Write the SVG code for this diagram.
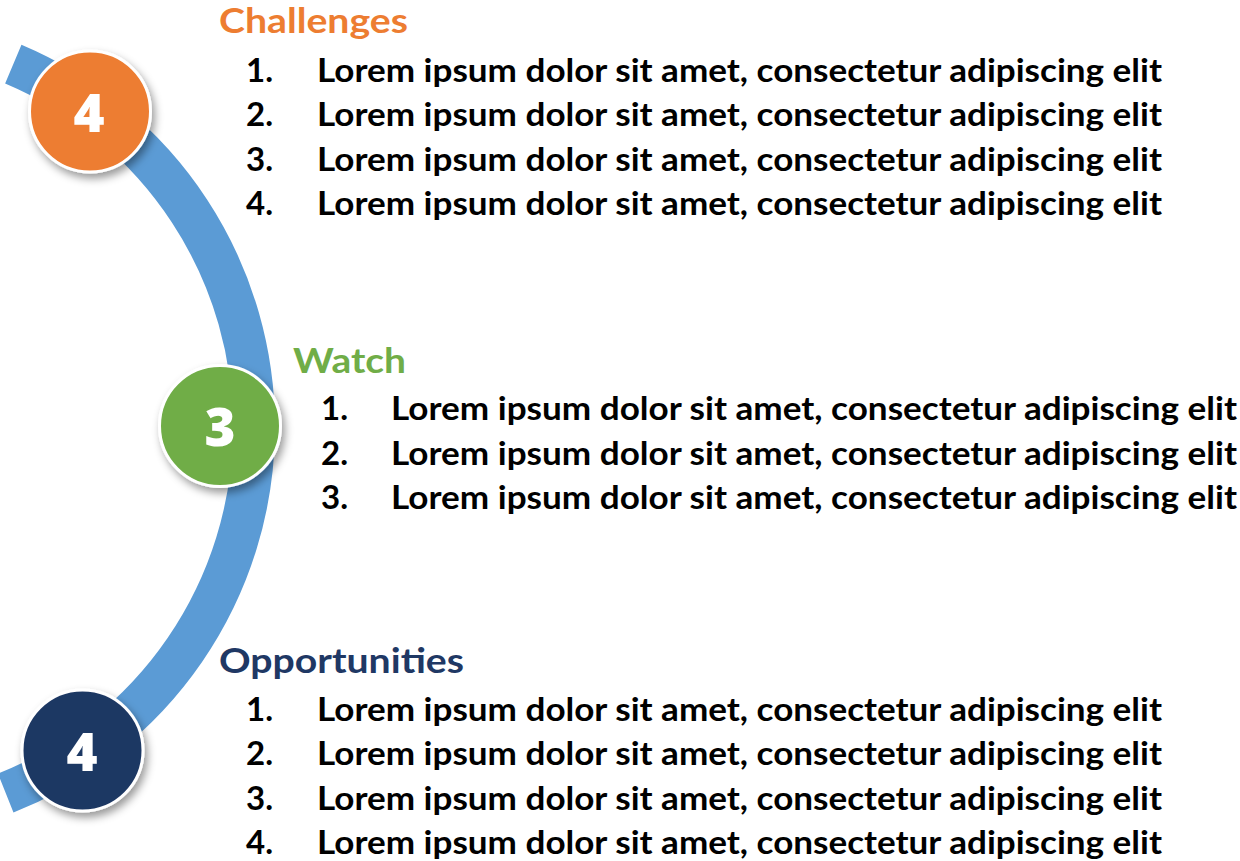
<svg xmlns="http://www.w3.org/2000/svg" width="1240" height="861" viewBox="0 0 1240 861">
<defs>
<filter id="sh" x="-30%" y="-30%" width="170%" height="170%">
<feDropShadow dx="3" dy="5" stdDeviation="4" flood-color="#000" flood-opacity="0.4"/>
</filter>
<style>
.title{font-family:Lato,"Open Sans",sans-serif;font-weight:bold;font-size:35px}
.item{font-family:Lato,"Open Sans",sans-serif;font-weight:bold;font-size:33px;fill:#000}
.num{font-family:"Open Sans",Lato,sans-serif;font-weight:800;font-size:53px;fill:#fff;text-anchor:middle}
.ring{stroke:#fff;stroke-width:3;filter:url(#sh)}
</style>
</defs>
<rect width="1240" height="861" fill="#fff"/>
<g id="connectors">
<path d="M 13.3 64.1 A 394 394 0 0 1 5.7 793.1" fill="none" stroke="#5B9BD5" stroke-width="42"/>
</g>
<g id="node-challenges">
<circle class="ring" cx="90" cy="111.5" r="60.5" fill="#ED7D31"/>
<text class="num" x="89" y="131.5">4</text>
<text class="title" x="219" y="33" fill="#ED7D31" textLength="189" lengthAdjust="spacingAndGlyphs">Challenges</text>
<text class="item" x="246" y="82">1.</text><text class="item" x="317" y="82" textLength="845" lengthAdjust="spacingAndGlyphs">Lorem ipsum dolor sit amet, consectetur adipiscing elit</text>
<text class="item" x="246" y="126">2.</text><text class="item" x="317" y="126" textLength="845" lengthAdjust="spacingAndGlyphs">Lorem ipsum dolor sit amet, consectetur adipiscing elit</text>
<text class="item" x="246" y="171">3.</text><text class="item" x="317" y="171" textLength="845" lengthAdjust="spacingAndGlyphs">Lorem ipsum dolor sit amet, consectetur adipiscing elit</text>
<text class="item" x="246" y="215">4.</text><text class="item" x="317" y="215" textLength="845" lengthAdjust="spacingAndGlyphs">Lorem ipsum dolor sit amet, consectetur adipiscing elit</text>
</g>
<g id="node-watch">
<circle class="ring" cx="220" cy="426" r="60.5" fill="#70AD47"/>
<text class="num" x="220" y="446">3</text>
<text class="title" x="293" y="373" fill="#70AD47" textLength="113" lengthAdjust="spacingAndGlyphs">Watch</text>
<text class="item" x="321" y="420">1.</text><text class="item" x="391" y="420" textLength="846" lengthAdjust="spacingAndGlyphs">Lorem ipsum dolor sit amet, consectetur adipiscing elit</text>
<text class="item" x="321" y="465">2.</text><text class="item" x="391" y="465" textLength="846" lengthAdjust="spacingAndGlyphs">Lorem ipsum dolor sit amet, consectetur adipiscing elit</text>
<text class="item" x="321" y="509">3.</text><text class="item" x="391" y="509" textLength="846" lengthAdjust="spacingAndGlyphs">Lorem ipsum dolor sit amet, consectetur adipiscing elit</text>
</g>
<g id="node-opportunities">
<circle class="ring" cx="82.5" cy="750.5" r="60.5" fill="#1F3864"/>
<text class="num" x="82" y="770.5">4</text>
<text class="title" x="219" y="673" fill="#1F3864" textLength="245" lengthAdjust="spacingAndGlyphs">Opportunities</text>
<text class="item" x="246" y="721">1.</text><text class="item" x="317" y="721" textLength="845" lengthAdjust="spacingAndGlyphs">Lorem ipsum dolor sit amet, consectetur adipiscing elit</text>
<text class="item" x="246" y="765">2.</text><text class="item" x="317" y="765" textLength="845" lengthAdjust="spacingAndGlyphs">Lorem ipsum dolor sit amet, consectetur adipiscing elit</text>
<text class="item" x="246" y="810">3.</text><text class="item" x="317" y="810" textLength="845" lengthAdjust="spacingAndGlyphs">Lorem ipsum dolor sit amet, consectetur adipiscing elit</text>
<text class="item" x="246" y="854">4.</text><text class="item" x="317" y="854" textLength="845" lengthAdjust="spacingAndGlyphs">Lorem ipsum dolor sit amet, consectetur adipiscing elit</text>
</g>
</svg>
